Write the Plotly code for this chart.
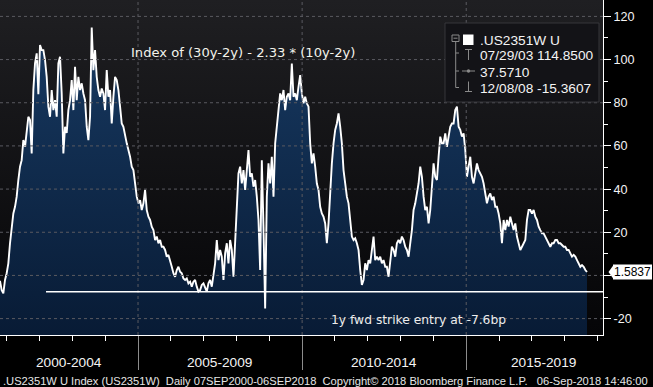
import plotly.graph_objects as go
import pandas as pd

# ---------------- data ----------------
SERIES_START = "2000-10-18"
SERIES_END = "2018-09-06"

vals_2000_2003 = [
    -2.5, -6.8, -8.3, -2.1, 1.0, 5.6, 14.9, 22.6, 28.7, 31.8,
    36.5, 44.2, 50.4, 53.4, 62.7, 59.6, 67.4, 73.5, 72.0, 56.5,
    85.9, 98.2, 102.9, 84.0, 106.7, 104.4, 104.4, 99.8, 92.0, 78.2,
    73.5, 85.9, 76.6, 81.2, 73.5, 98.2, 101.3, 84.3, 56.5, 68.9,
    66.0, 76.6, 81.2, 90.5, 76.6, 96.7, 81.2, 92.0, 85.9, 89.0,
    84.3, 81.2, 68.9, 62.7, 73.5, 114.85, 95.1, 104.4, 92.0, 85.9,
    82.8, 86.6, 84.3, 76.6, 95.1, 82.8, 85.9, 70.4, 82.8, 92.0,
    90.5, 85.9,
]
vals_2004_2007 = [
    78.2, 70.4, 68.9, 64.3, 61.2, 58.1, 55.0, 50.4, 48.8, 42.6,
    36.5, 33.4, 34.9, 30.3, 33.4, 39.6, 30.3, 27.2, 25.7, 22.6,
    21.0, 16.4, 18.0, 14.9, 16.4, 13.3, 13.3, 11.8, 8.7, 9.5,
    7.1, 4.0, 1.0, -0.6, 2.5, 4.0, 1.7, 1.0, -1.4, -2.1,
    -1.4, -3.7, -2.9, -5.2, -2.9, -2.1, -5.2, -7.5, -6.8, -4.4,
    -3.7, -6.0, -7.5, -3.7, -2.1, -5.2, -0.6, 5.6, 16.4, 7.1,
    11.8, 8.7, -2.1, 10.2, 14.9, 5.6, 16.4, 11.8, -0.6, 14.9,
    33.4, 47.3,
]
vals_2007_2011 = [
    50.4, 42.6, 48.8, 39.6, 48.8, 58.1, 45.7, 47.3, 41.1, 44.2,
    36.5, 25.7, 2.5, 53.4, 22.6, -15.3607, 36.5, 51.9, 42.6, 55.0,
    36.5, 61.2, 68.9, 76.6, 84.3, 81.2, 85.9, 76.6, 82.8, 84.3,
    81.2, 98.2, 82.8, 84.3, 81.2, 87.4, 92.8, 84.3, 79.7, 82.8,
    79.7, 78.2, 61.2, 51.9, 56.5, 50.4, 42.6, 39.6, 31.8, 28.7,
    27.2, 24.1, 14.9, 24.1, 39.6, 51.9, 61.2, 67.4, 70.4, 75.1,
    68.9, 61.2, 48.8, 42.6, 36.5, 33.4, 24.1, 18.0, 16.4, 17.2,
    14.9, 11.8,
]
vals_2011_2014 = [
    2.5, -4.4, -2.1, 5.6, 2.5, 7.1, 5.6, 11.8, 18.0, 7.1,
    8.7, 7.1, 8.7, 5.6, 7.1, 4.0, 4.0, -0.6, 5.6, 13.3,
    11.8, 8.7, 14.9, 16.4, 14.9, 18.0, 16.4, 13.3, 11.8, 8.7,
    14.9, 21.0, 30.3, 33.4, 38.0, 42.6, 50.4, 45.7, 36.5, 30.3,
    31.8, 24.1, 30.3, 41.1, 51.9, 45.7, 44.2, 55.0, 64.3, 61.2,
    61.2, 65.8, 59.6, 64.3, 68.9, 70.4, 70.4, 76.6, 78.2, 68.9,
    67.4, 64.3, 65.8, 58.1, 45.7, 50.4, 55.0, 45.7, 42.6, 47.3,
    51.9, 48.8,
]
vals_2014_2018 = [
    47.3, 45.7, 42.6, 38.0, 33.4, 36.5, 38.0, 34.9, 36.5, 31.8,
    31.8, 28.7, 24.1, 14.9, 25.7, 21.0, 25.7, 22.6, 27.2, 24.1,
    21.0, 24.1, 18.0, 14.9, 11.8, 13.3, 14.9, 16.4, 25.7, 30.3,
    30.3, 28.7, 30.3, 27.2, 25.7, 22.6, 21.0, 19.5, 19.5, 18.0,
    16.4, 14.9, 13.3, 14.9, 14.9, 16.4, 16.4, 14.9, 14.9, 14.1,
    13.3, 13.3, 11.8, 11.8, 10.2, 8.7, 9.5, 8.7, 7.1, 5.6,
    4.0, 4.8, 4.0, 2.5, 1.5837,
]

period_labels = ["2000-2004", "2005-2009", "2010-2014", "2015-2019"]
period_breaks = ["2005-01-01", "2010-01-01", "2015-01-01"]
year_ticks = [f"{y}-01-01" for y in range(2001, 2020)]
y_major = [-20, 0, 20, 40, 60, 80, 100, 120]
y_minor = [-10, 10, 30, 50, 70, 90, 110]
strike_level = -7.6

legend_name = ".US2351W U"
legend_stats = ["07/29/03 114.8500", "37.5710", "12/08/08 -15.3607"]
title_text = "Index of (30y-2y) - 2.33 * (10y-2y)"
strike_text = "1y fwd strike entry at -7.6bp"
footer_text = (".US2351W U Index (US2351W)\u00a0\u00a0Daily 07SEP2000-06SEP2018\u00a0\u00a0"
               "Copyright\u00a9 2018 Bloomberg Finance L.P.\u00a0\u00a0\u00a006-Sep-2018 14:46:00")

values = vals_2000_2003 + vals_2004_2007 + vals_2007_2011 + vals_2011_2014 + vals_2014_2018
dates = pd.date_range(SERIES_START, SERIES_END, periods=len(values))
last_value = values[-1]

# ---------------- layout constants ----------------
X_RANGE = ["2000-10-18", "2019-03-03"]
Y_MIN, Y_MAX = -27.6, 127.6
W, H = 603, 335           # plot area in px
FONT = "Liberation Sans, Arial, sans-serif"
TFONT = "DejaVu Sans, Verdana, sans-serif"
WHITE = "#f4f4f4"
GREY = "#8a8a8a"
GRID = "#5a5a60"


def px(x):
    return x / W


def py(y):
    return 1 - y / H


def pv(v):
    return (v - Y_MIN) / (Y_MAX - Y_MIN)


fig = go.Figure()

# plot-area background gradient
fig.add_trace(go.Scatter(
    x=[X_RANGE[0], X_RANGE[1], X_RANGE[1], X_RANGE[0], X_RANGE[0]],
    y=[Y_MIN, Y_MIN, Y_MAX, Y_MAX, Y_MIN],
    mode="lines", line=dict(width=0), fill="toself",
    fillgradient=dict(type="vertical", colorscale=[[0, "#050507"], [1, "#1f1f22"]]),
    hoverinfo="skip", showlegend=False))

# baseline at bottom of plot so the area fills to the bottom
fig.add_trace(go.Scatter(
    x=[dates[0], dates[-1]], y=[Y_MIN, Y_MIN],
    mode="lines", line=dict(width=0), hoverinfo="skip", showlegend=False))

fig.add_trace(go.Scatter(
    x=dates, y=values, mode="lines",
    line=dict(color="white", width=1.9),
    fill="tonexty",
    fillgradient=dict(type="vertical", colorscale=[[0, "#081b35"], [1, "#173961"]]),
    hoverinfo="skip", showlegend=False))

shapes = []
for v in y_major:
    shapes.append(dict(type="line", xref="paper", yref="y", x0=0, x1=1, y0=v, y1=v,
                       line=dict(color=GRID, width=1, dash="3px,3px"), layer="above"))
for d in period_breaks:
    shapes.append(dict(type="line", xref="x", yref="paper", x0=d, x1=d, y0=0, y1=1,
                       line=dict(color=GRID, width=1, dash="3px,3px"), layer="above"))
# strike line
shapes.append(dict(type="line", xref="paper", yref="y", x0=px(46), x1=1,
                   y0=strike_level, y1=strike_level,
                   line=dict(color="white", width=1.5), layer="above"))
# legend box
shapes.append(dict(type="rect", xref="paper", yref="paper", x0=px(445), x1=px(599),
                   y0=py(102), y1=py(23), fillcolor="#131317",
                   line=dict(color="#36363a", width=1), layer="above"))
# white square
shapes.append(dict(type="rect", xref="paper", yref="paper", x0=px(463), x1=px(473.5),
                   y0=py(45), y1=py(34.5), fillcolor="white", line=dict(width=0), layer="above"))
# tree glyphs
shapes.append(dict(type="rect", xref="paper", yref="paper", x0=px(452), x1=px(459),
                   y0=py(41.5), y1=py(35), line=dict(color=GREY, width=1), layer="above"))
for seg in [((453.5, 38.2), (457.5, 38.2)), ((455.7, 41.5), (455.7, 87.5)),
            ((455.7, 53), (459, 53)), ((455.7, 71), (459, 71)), ((455.7, 87.5), (459, 87.5)),
            ((465, 49.5), (472, 49.5)), ((468.5, 49.5), (468.5, 60)),
            ((462, 71), (475, 71)),
            ((468.5, 81.5), (468.5, 91.5)), ((465, 91.5), (472, 91.5))]:
    (x0, y0), (x1, y1) = seg
    shapes.append(dict(type="line", xref="paper", yref="paper", x0=px(x0), x1=px(x1),
                       y0=py(y0), y1=py(y1), line=dict(color=GREY, width=1), layer="above"))
shapes.append(dict(type="circle", xref="paper", yref="paper", x0=px(466.8), x1=px(470.2),
                   y0=py(72.7), y1=py(69.3), fillcolor=GREY, line=dict(width=0), layer="above"))

# last value tag
ty = pv(last_value)
half = 7.5 / H
shapes.append(dict(type="rect", xref="paper", yref="paper", x0=px(613), x1=px(652),
                   y0=ty - half, y1=ty + half, fillcolor="white", line=dict(width=0)))
shapes.append(dict(type="path", xref="paper", yref="paper",
                   path=f"M {px(608.5)},{ty} L {px(613.2)},{ty + 6.5 / H} L {px(613.2)},{ty - 6.5 / H} Z",
                   fillcolor="white", line=dict(width=0)))

annotations = []
annotations.append(dict(xref="paper", yref="paper", x=px(632.5), y=ty, text=f"{last_value:.4f}",
                        showarrow=False, xanchor="center", yanchor="middle",
                        font=dict(family=FONT, size=12, color="black")))
annotations.append(dict(xref="paper", yref="paper", x=px(129), y=py(52.7), text=title_text,
                        showarrow=False, xanchor="left", yanchor="middle",
                        font=dict(family=TFONT, size=13.1, color="#f3f3ec")))
annotations.append(dict(xref="paper", yref="paper", x=px(418), y=py(319.5), text=strike_text,
                        showarrow=False, xanchor="center", yanchor="middle",
                        font=dict(family=TFONT, size=12.3, color="#ececec")))
legend_rows = [legend_name] + legend_stats
for txt, yy in zip(legend_rows, [40.5, 56, 72, 88]):
    annotations.append(dict(xref="paper", yref="paper", x=px(477.5), y=py(yy), text=txt,
                            showarrow=False, xanchor="left", yanchor="middle",
                            font=dict(family=FONT, size=13.7, color=WHITE)))
for txt, cx in zip(period_labels, [69, 219.5, 384, 543]):
    annotations.append(dict(xref="paper", yref="paper", x=px(cx), y=py(362), text=txt,
                            showarrow=False, xanchor="center", yanchor="middle",
                            font=dict(family=FONT, size=13.7, color=WHITE)))
annotations.append(dict(xref="paper", yref="paper", x=px(0.5), y=py(380.5), text=footer_text,
                        showarrow=False, xanchor="left", yanchor="middle",
                        font=dict(family=FONT, size=11.15, color="#e6e6e6")))

# the "0" label is hidden behind the last-value tag in the reference
y_ticktext = ["" if v == 0 else str(v) for v in y_major]

fig.update_layout(
    width=653, height=387,
    margin=dict(l=0, r=653 - W, t=0, b=387 - H),
    paper_bgcolor="#000000", plot_bgcolor="#0e0e11",
    showlegend=False,
    shapes=shapes, annotations=annotations,
    font=dict(family=FONT, color=WHITE),
    xaxis=dict(type="date", range=X_RANGE, showgrid=False, zeroline=False,
               showline=True, linecolor="white", linewidth=1,
               tickmode="array", tickvals=period_breaks, ticks="outside", ticklen=34,
               tickcolor="#8c8c8c", tickwidth=1, showticklabels=False,
               minor=dict(tickmode="array", tickvals=year_ticks, ticks="outside",
                          ticklen=5, tickcolor="white", showgrid=False)),
    yaxis=dict(side="right", range=[Y_MIN, Y_MAX], showgrid=False, zeroline=False,
               showline=True, linecolor="white", linewidth=1,
               tickmode="array", tickvals=y_major, ticktext=y_ticktext,
               ticks="outside", ticklen=7, tickcolor="white",
               tickfont=dict(family=FONT, size=12.6, color=WHITE),
               minor=dict(tickmode="array", tickvals=y_minor, ticks="outside",
                          ticklen=4, tickcolor="white", showgrid=False)),
)

fig.write_html(
    "out.html",
    config={"displayModeBar": False, "staticPlot": True},
    post_script="document.body.style.margin='0';document.body.style.padding='0';"
                "document.body.style.overflow='hidden';document.body.style.background='#000';",
)
